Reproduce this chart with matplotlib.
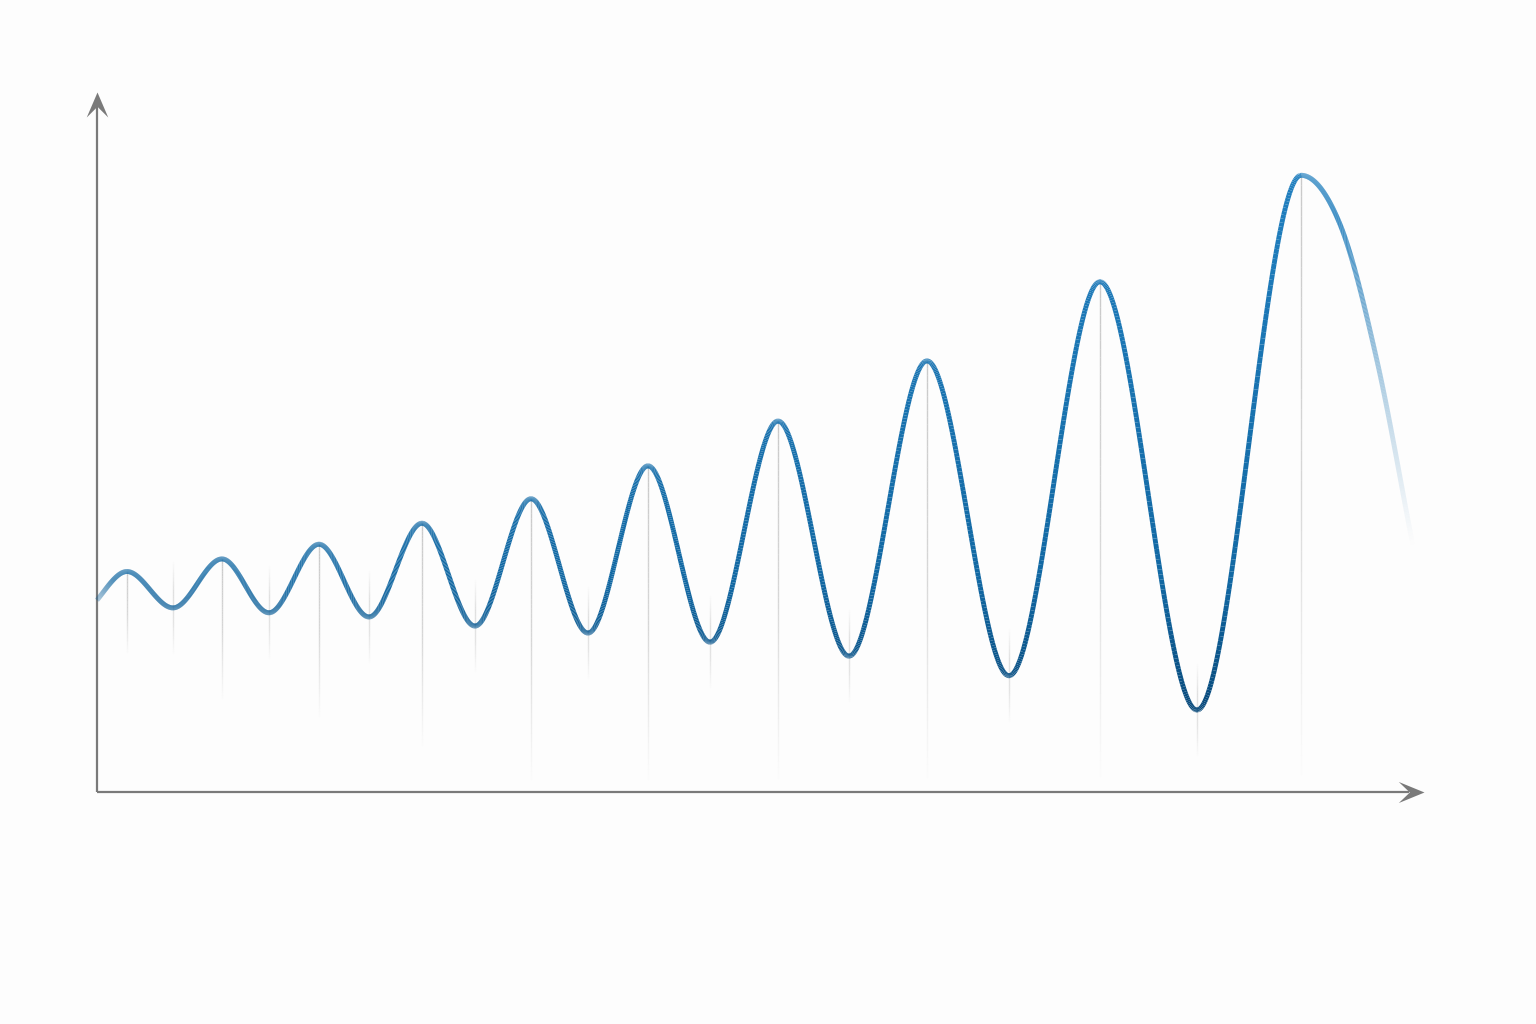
"""Growing oscillation drawn on bare arrowed axes."""

import matplotlib
matplotlib.use("Agg")
import matplotlib.pyplot as plt
import numpy as np
from matplotlib.collections import LineCollection
from matplotlib.colors import LinearSegmentedColormap, to_rgba
from matplotlib.markers import MarkerStyle
from matplotlib.path import Path


# key points of the curve (start, alternating peaks / troughs, tail of the last fall)
CURVE_X = [0.0, 3.0, 7.6, 12.5, 17.2, 22.2, 27.2, 32.5, 37.8, 43.4, 49.1, 55.1,
           61.3, 68.1, 75.2, 83.0, 91.2, 100.3, 110.0, 120.4, 124.3, 128.0, 131.6]
CURVE_Y = [27.4, 31.5, 26.3, 33.3, 25.6, 35.4, 25.0, 38.4, 23.7, 41.9, 22.7, 46.6,
           21.4, 53.0, 19.4, 61.6, 16.6, 72.9, 11.7, 88.1, 81.1, 61.6, 35.1]

# how far the faint guide under each peak reaches down
PEAK_GUIDE_END = [19.6, 12.9, 10.3, 6.0, 1.0, 1.0, 1.0, 1.0, 1.0, 1.0]

X_TIP = 132.7
Y_TIP = 100.0


def hermite(xs, ys, n_per=120):
    xs = np.asarray(xs, float)
    ys = np.asarray(ys, float)
    m = np.zeros_like(ys)
    for i in range(len(xs)):
        if 0 < i < len(xs) - 1:
            if (ys[i] - ys[i - 1]) * (ys[i + 1] - ys[i]) < 0:
                m[i] = 0.0
            else:
                m[i] = (ys[i + 1] - ys[i - 1]) / (xs[i + 1] - xs[i - 1])
        elif i == 0:
            m[i] = (ys[1] - ys[0]) / (xs[1] - xs[0]) * 1.3
        else:
            m[i] = (ys[-1] - ys[-2]) / (xs[-1] - xs[-2])
    out_x, out_y = [], []
    for i in range(len(xs) - 1):
        h = xs[i + 1] - xs[i]
        s = np.linspace(0, 1, n_per, endpoint=False)
        h00 = 2 * s**3 - 3 * s**2 + 1
        h10 = s**3 - 2 * s**2 + s
        h01 = -2 * s**3 + 3 * s**2
        h11 = s**3 - s**2
        out_x.append(xs[i] + s * h)
        out_y.append(h00 * ys[i] + h10 * h * m[i] + h01 * ys[i + 1] + h11 * h * m[i + 1])
    out_x.append([xs[-1]])
    out_y.append([ys[-1]])
    return np.concatenate(out_x), np.concatenate(out_y)


def vguide(ax, x, y_top, y_bot, alphas, color="#a8a8a8", lw=1.0, n=60):
    yy = np.linspace(y_top, y_bot, n + 1)
    segs = [[(x, yy[k]), (x, yy[k + 1])] for k in range(n)]
    pos = np.linspace(0, 1, n)
    a = np.interp(pos, np.linspace(0, 1, len(alphas)), alphas)
    base = np.array(to_rgba(color))
    cols = np.tile(base, (n, 1))
    cols[:, 3] = a
    ax.add_collection(LineCollection(segs, colors=cols, linewidths=lw, zorder=1))


def main() -> int:
    fig = plt.figure(figsize=(15.36, 10.24), dpi=100, facecolor="#fdfdfd")
    ax = fig.add_axes([0, 0, 1, 1])
    ax.set_facecolor("#fdfdfd")
    ax.set_xlim(-9.7, 143.9)
    ax.set_ylim(-33.14, 113.14)
    ax.axis("off")

    # guides under peaks and around troughs
    peaks = list(range(1, 20, 2))
    troughs = list(range(2, 19, 2))
    for k, i in enumerate(peaks):
        vguide(ax, CURVE_X[i], CURVE_Y[i], PEAK_GUIDE_END[k], [0.6, 0.45, 0.0])
    for i in troughs:
        vguide(ax, CURVE_X[i], CURVE_Y[i] + 7.0, CURVE_Y[i] - 6.8, [0.0, 0.35, 0.3, 0.0])

    # main curve, darker where it runs low, faded at both ends
    xs, ys = hermite(CURVE_X, CURVE_Y)
    pts = np.column_stack([xs, ys])
    segs = np.stack([pts[:-1], pts[1:]], axis=1)
    ymid = (ys[:-1] + ys[1:]) / 2
    xmid = (xs[:-1] + xs[1:]) / 2
    cmap = LinearSegmentedColormap.from_list(
        "curve", [(0.0, "#064677"), (0.25, "#1268a3"), (1.0, "#2180c0")])
    cols = cmap(np.clip((ymid - 10) / 80, 0, 1))
    alpha = np.ones_like(xmid)
    alpha = np.minimum(alpha, np.clip(0.35 + xmid / 2.5, 0, 1))
    fade = np.clip((131.6 - xmid) / (131.6 - 124.0), 0, 1)
    alpha = np.minimum(alpha, fade**1.2)
    cols[:, 3] = alpha
    ax.add_collection(LineCollection(segs, colors=cols, linewidths=3.5,
                                     capstyle="butt", joinstyle="round", zorder=3))

    # arrowed axes
    axis_color = "#7a7a7a"
    ax.plot([0, 0], [0, Y_TIP - 1.5], color=axis_color, lw=1.6, zorder=2,
            solid_capstyle="butt")
    ax.plot([0, X_TIP - 1.5], [0, 0], color=axis_color, lw=1.6, zorder=2,
            solid_capstyle="butt")
    head_r = Path([(0, 0), (-1, 0.41), (-0.57, 0), (-1, -0.41), (0, 0)],
                  [Path.MOVETO, Path.LINETO, Path.LINETO, Path.LINETO, Path.CLOSEPOLY])
    head_u = Path([(0, 0), (-0.43, -1), (0, -0.57), (0.43, -1), (0, 0)],
                  [Path.MOVETO, Path.LINETO, Path.LINETO, Path.LINETO, Path.CLOSEPOLY])
    ax.plot([X_TIP], [0], marker=MarkerStyle(head_r), markersize=37,
            color=axis_color, markeredgewidth=0, zorder=2)
    ax.plot([0], [Y_TIP], marker=MarkerStyle(head_u), markersize=36,
            color=axis_color, markeredgewidth=0, zorder=2)

    fig.savefig("out.png", dpi=100, facecolor=fig.get_facecolor())
    return 0


if __name__ == "__main__":
    raise SystemExit(main())
